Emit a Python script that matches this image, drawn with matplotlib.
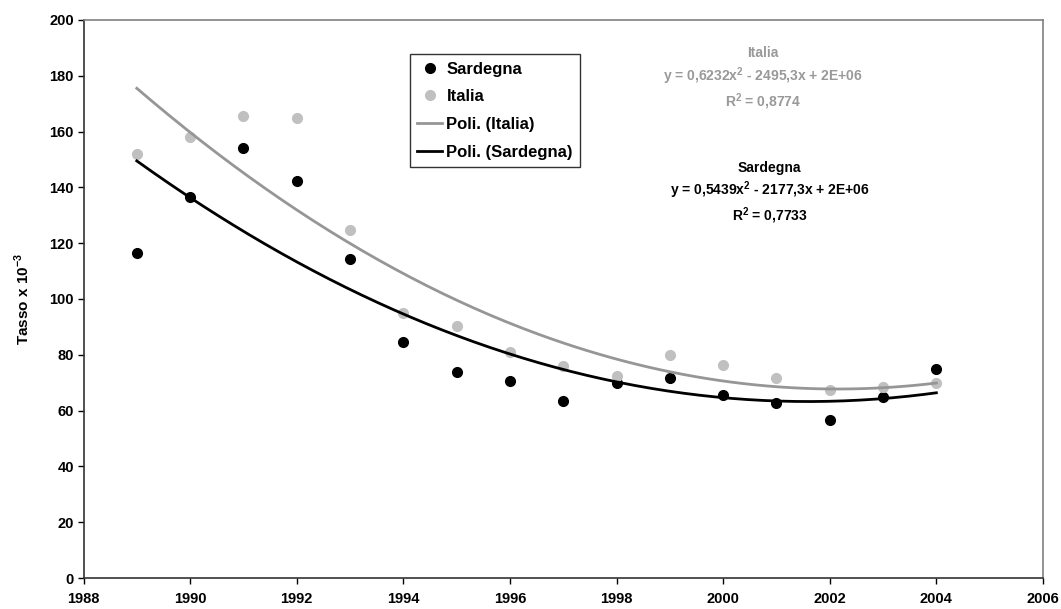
import numpy as np
import matplotlib.pyplot as plt

anni = [1989, 1990, 1991, 1992, 1993, 1994, 1995, 1996, 1997, 1998,
        1999, 2000, 2001, 2002, 2003, 2004]
sardegna = [116.5, 136.5, 154.0, 142.3, 114.3, 84.7, 74.0, 70.5, 63.5, 70.0,
            71.8, 65.5, 62.8, 56.5, 64.8, 75.0]
italia = [152.0, 158.0, 165.7, 165.0, 124.7, 95.0, 90.3, 81.0, 76.0, 72.5,
          80.0, 76.3, 71.6, 67.3, 68.5, 70.0]

eq_italia = "Italia\ny = 0,6232x$^{\\mathbf{2}}$ - 2495,3x + 2E+06\nR$^{\\mathbf{2}}$ = 0,8774"
eq_sardegna = "Sardegna\ny = 0,5439x$^{\\mathbf{2}}$ - 2177,3x + 2E+06\nR$^{\\mathbf{2}}$ = 0,7733"

plt.rcParams['font.family'] = ['Liberation Sans', 'DejaVu Sans']
plt.rcParams['mathtext.fontset'] = 'custom'
plt.rcParams['mathtext.rm'] = 'Liberation Sans'
plt.rcParams['mathtext.bf'] = 'Liberation Sans:bold'

fig = plt.figure(figsize=(10.61, 6.09), dpi=100)
ax = fig.add_axes([0.0787, 0.0509, 0.9043, 0.9163])

x = np.array(anni, dtype=float)
xs = np.linspace(1989, 2004, 200)
# linee di tendenza polinomiali (ordine 2)
p_it = np.polyfit(x - 1996, italia, 2)
p_sa = np.polyfit(x - 1996, sardegna, 2)

ax.plot(x, sardegna, 'o', color='black', ms=7, label='Sardegna', zorder=3)
ax.plot(x, italia, 'o', color='#c0c0c0', ms=7, label='Italia', zorder=3)
ax.plot(xs, np.polyval(p_it, xs - 1996), color='#969696', lw=2, label='Poli. (Italia)', zorder=4)
ax.plot(xs, np.polyval(p_sa, xs - 1996), color='black', lw=2, label='Poli. (Sardegna)', zorder=4)

ax.set_xlim(1988, 2006)
ax.set_ylim(0, 200)
ax.set_xticks(range(1988, 2007, 2))
ax.set_yticks(range(0, 201, 20))
ax.tick_params(direction='out', length=4, width=1, labelsize=10.5, colors='black', pad=3)
for lab in ax.get_xticklabels() + ax.get_yticklabels():
    lab.set_fontweight('bold')
ax.tick_params(axis='x', pad=6)

for s in ['left', 'bottom']:
    ax.spines[s].set_color('#333333')
    ax.spines[s].set_linewidth(1.2)
for s in ['top', 'right']:
    ax.spines[s].set_color('#808080')
    ax.spines[s].set_linewidth(1.2)

ax.set_ylabel('Tasso x 10$^{\\mathbf{-3}}$', fontsize=11, fontweight='bold', labelpad=12)

leg = ax.legend(loc='upper left', bbox_to_anchor=(0.340, 0.939), frameon=True,
                fancybox=False, edgecolor='black', borderpad=0.45, labelspacing=0.76,
                handlelength=1.5, handletextpad=0.25, borderaxespad=0,
                prop={'weight': 'bold', 'size': 12})
leg.get_frame().set_linewidth(1)

ax.text(0.708, 0.9525, eq_italia, transform=ax.transAxes, ha='center', va='top',
        color='#999999', fontsize=10, fontweight='bold', linespacing=1.3)
ax.text(0.715, 0.748, eq_sardegna, transform=ax.transAxes, ha='center', va='top',
        color='black', fontsize=10, fontweight='bold', linespacing=1.3)

fig.savefig('out.png', dpi=100)
